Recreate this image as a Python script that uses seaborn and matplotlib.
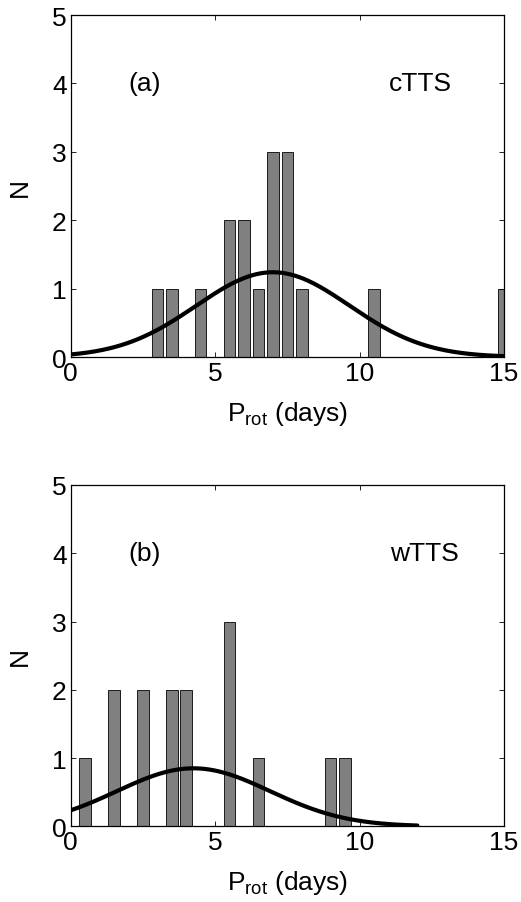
import numpy as np
import pandas as pd
import seaborn as sns
import matplotlib
matplotlib.use("Agg")
import matplotlib.pyplot as plt

# rotation period histogram data (bin centres in days, counts)
ctts_period = [3.0, 3.5, 4.5, 5.5, 6.0, 6.5, 7.0, 7.5, 8.0, 10.5, 15.0]
ctts_count = [1, 1, 1, 2, 2, 1, 3, 3, 1, 1, 1]
wtts_period = [0.5, 1.5, 2.5, 3.5, 4.0, 5.5, 6.5, 9.0, 9.5]
wtts_count = [1, 2, 2, 2, 2, 3, 1, 1, 1]

# gaussian fits: (mean, sigma, amplitude, x max)
ctts_fit = (7.0, 2.65, 1.24, 15.0)
wtts_fit = (4.25, 2.65, 0.85, 12.0)

sns.set_style("ticks")
plt.rcParams['font.family'] = ['Liberation Sans', 'DejaVu Sans']
plt.rcParams['mathtext.fontset'] = 'custom'
plt.rcParams['mathtext.rm'] = 'Liberation Sans'
plt.rcParams['mathtext.it'] = 'Liberation Sans'
for key in ['text.color', 'axes.labelcolor', 'xtick.color', 'ytick.color']:
    plt.rcParams[key] = 'black'
fs = 19

fig = plt.figure(figsize=(5.21, 9.03), dpi=100)
ax_a = fig.add_axes([0.1357, 0.6035, 0.8317, 0.3787])
ax_b = fig.add_axes([0.1357, 0.0838, 0.8317, 0.378])

panels = [
    (ax_a, ctts_period, ctts_count, ctts_fit, '(a)', 'cTTS', 12.1),
    (ax_b, wtts_period, wtts_count, wtts_fit, '(b)', 'wTTS', 12.25),
]

for ax, period, count, fit, tag, label, lx in panels:
    df = pd.DataFrame({'P': period, 'N': count})
    sns.histplot(data=df, x='P', weights='N', binwidth=0.5,
                 binrange=(-0.25, 15.25), shrink=0.8,
                 color='#808080', edgecolor='black', linewidth=0.6,
                 alpha=1.0, ax=ax)
    mu, sig, amp, xmax = fit
    xs = np.linspace(0, xmax, 300)
    curve = pd.DataFrame({'x': xs, 'y': amp * np.exp(-(xs - mu) ** 2 / (2 * sig ** 2))})
    sns.lineplot(data=curve, x='x', y='y', color='black', linewidth=3, ax=ax)

    ax.set_xlim(0, 15)
    ax.set_ylim(0, 5)
    ax.set_xticks([0, 5, 10, 15])
    ax.set_yticks([0, 1, 2, 3, 4, 5])
    ax.tick_params(direction='in', length=3.5, width=0.6, top=True, right=True,
                   labelsize=fs, pad=3)
    for s in ax.spines.values():
        s.set_linewidth(0.9)
        s.set_color('black')
    ax.text(2.55, 4.0, tag, ha='center', va='center', fontsize=fs)
    ax.text(lx, 4.0, label, ha='center', va='center', fontsize=fs)
    ax.set_xlabel(r'P$_{\rm rot}$ (days)', fontsize=fs, labelpad=10)
    ax.set_ylabel('N', fontsize=fs, labelpad=14)

fig.savefig('out.png', dpi=100)
